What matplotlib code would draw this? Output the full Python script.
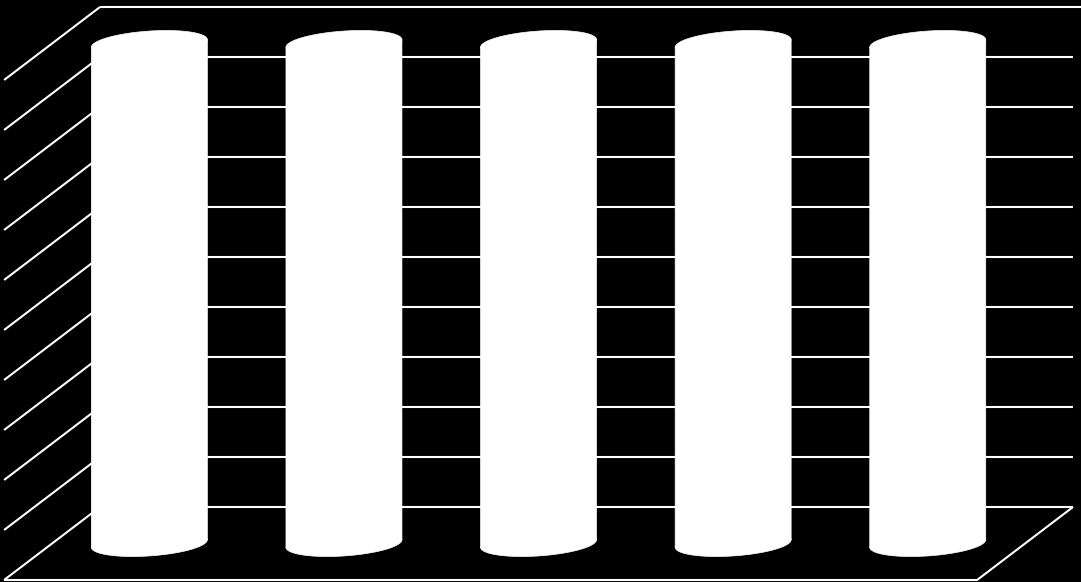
import numpy as np
import matplotlib
matplotlib.use("Agg")
import matplotlib.pyplot as plt
from matplotlib.patches import Polygon

# chart data (all five cylinders reach the top of the scale)
categories = ["1", "2", "3", "4", "5"]
values = [100, 100, 100, 100, 100]
y_ticks = list(range(0, 101, 10))

# oblique 3d look, in data units
depth_dx = -0.493     # shift of the front plane along x
depth_dy = -14.6      # shift of the front plane along y
rad_x = 0.285         # cylinder radius across
skew_x = 0.087        # depth radius, x part
skew_y = 2.6          # depth radius, y part

fig = plt.figure(figsize=(10.81, 5.82), dpi=100, facecolor="black")
ax = fig.add_axes([0, 0, 1, 1])
ax.set_facecolor("black")
ax.set_xlim(-0.514, 5.041)
ax.set_ylim(-15, 101.4)
ax.axis("off")

n = len(categories)
line = dict(color="white", lw=1.5, solid_capstyle="butt")

# back wall gridlines and left wall diagonals
for v in y_ticks:
    right = ax.get_xlim()[1] if v == y_ticks[-1] else n
    ax.plot([0, right], [v, v], **line, zorder=1)
    ax.plot([depth_dx, 0], [v + depth_dy, v], **line, zorder=1)

# floor outline
ax.plot([depth_dx, n + depth_dx, n], [depth_dy, depth_dy, 0], **line, zorder=1)


def ellipse(cx, cy, t):
    return np.column_stack([cx + rad_x * np.cos(t) - skew_x * np.sin(t),
                            cy - skew_y * np.sin(t)])


t = np.linspace(0, 2 * np.pi, 200)
t0 = np.arctan2(-skew_x, rad_x)
for i, v in enumerate(values):
    cx = i + 0.5 + depth_dx / 2
    base = depth_dy / 2
    top = v + depth_dy / 2
    lo = ellipse(cx, base, np.array([t0, t0 + np.pi]))
    hi = ellipse(cx, top, np.array([t0, t0 + np.pi]))
    body = np.array([lo[0], hi[0], hi[1], lo[1]])
    for pts in (ellipse(cx, base, t), body, ellipse(cx, top, t)):
        ax.add_patch(Polygon(pts, closed=True, facecolor="white",
                             edgecolor="white", lw=0.5, zorder=3))

fig.savefig("out.png", dpi=100, facecolor="black")
